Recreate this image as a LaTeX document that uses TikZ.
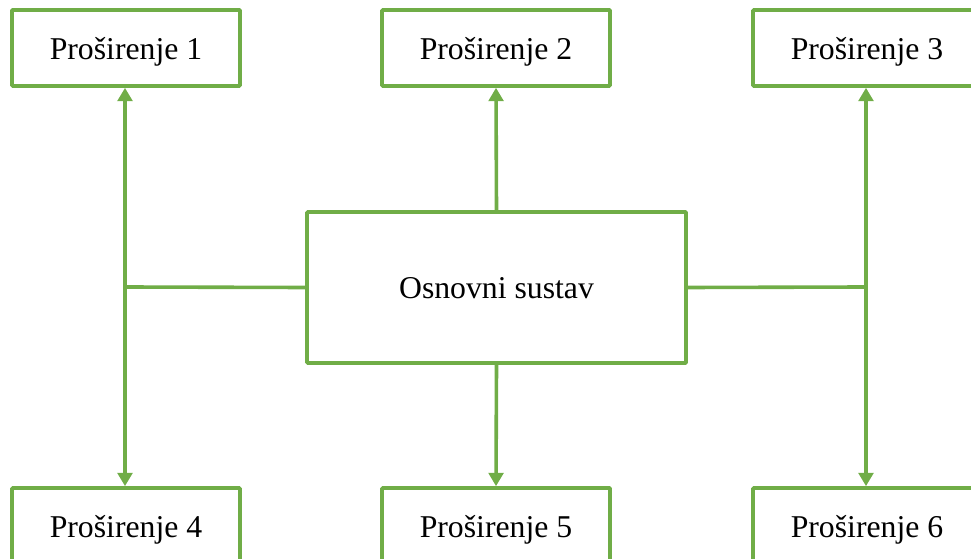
\documentclass[tikz,border=0pt]{standalone}
\usepackage{fontspec}
\setmainfont{Liberation Serif}
\usetikzlibrary{
    arrows.meta,
    calc,
    positioning
}
\definecolor{extgreen}{HTML}{70AD47}

\tikzset{
    extbox/.style={draw=extgreen, line width=2.7pt, fill=white,
        minimum width=171pt, minimum height=57pt, inner sep=0pt,
        text height=17pt, text depth=-1pt,
        rounded corners=0.6pt, font=\fontsize{23.8}{28}\selectfont},
    corebox/.style={extbox, minimum width=284.25pt, minimum height=113.25pt},
    link/.style={draw=extgreen, line width=2.7pt},
    arrowlink/.style={link, -{Triangle[width=11pt, length=10pt]}}
}

\begin{document}
\begin{tikzpicture}[x=0.75pt, y=-0.75pt]
                        \useasboundingbox (0, 0) rectangle (971, 559);
                        \clip (0, 0) rectangle (971, 559);

                        \foreach \i/\x/\y in {1/126/48, 2/496/48, 3/867/48, 4/126/526, 5/496/526, 6/867/526} {
                            \node[extbox] (ext\i) at (\x, \y) {Proširenje \i};
                        }

                        \node[corebox] (core) at (496.5, 287.5) {Osnovni sustav};

                        \coordinate (joinL) at (125, 287);
                        \coordinate (joinR) at (866, 287);

                        \draw[link] (core.west) -- (joinL);
                        \draw[link] (core.east) -- (joinR);

                        \draw[arrowlink] (joinL) -- (joinL |- ext1.south);
                        \draw[arrowlink] (joinL) -- (joinL |- ext4.north);
                        \draw[arrowlink] (joinR) -- (joinR |- ext3.south);
                        \draw[arrowlink] (joinR) -- (joinR |- ext6.north);

                        \draw[arrowlink] (core.north) -- (ext2.south);
                        \draw[arrowlink] (core.south) -- (ext5.north);
                    \end{tikzpicture}
\end{document}
